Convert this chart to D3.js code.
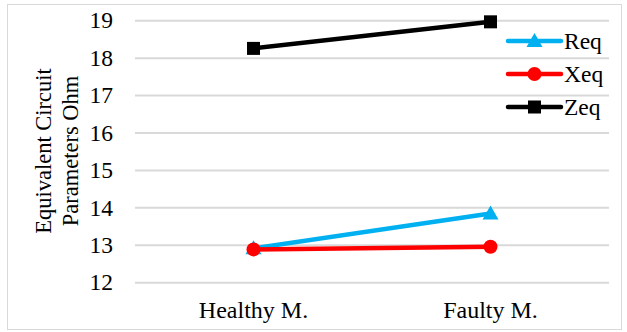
<!DOCTYPE html>
<html>
<head>
<meta charset="utf-8">
<script src="https://cdn.jsdelivr.net/npm/d3@7"></script>
</head>
<body style="margin:0">
<svg id="chart" width="627" height="332"></svg>
<script>
// Motor states on the x axis
const categories = ["Healthy M.", "Faulty M."];
// Equivalent circuit parameters (Ohm)
const reqValues = [12.92, 13.85];
const xeqValues = [12.89, 12.96];
const zeqValues = [18.26, 18.97];
const yTicks = [12, 13, 14, 15, 16, 17, 18, 19];
const seriesNames = ["Req", "Xeq", "Zeq"];

const FONT = "'Liberation Serif'";

const series = [
  { name: seriesNames[0], values: reqValues, color: "#00B0F0", marker: "triangle" },
  { name: seriesNames[1], values: xeqValues, color: "#FF0000", marker: "circle" },
  { name: seriesNames[2], values: zeqValues, color: "#000000", marker: "square" }
];

const svg = d3.select("#chart");
const plot = { left: 135, right: 609, top: 20.7, bottom: 282.7 };

// chart frame
svg.append("rect")
  .attr("x", 7.5).attr("y", 4.5)
  .attr("width", 614).attr("height", 325)
  .attr("fill", "#fff").attr("stroke", "#d9d9d9").attr("stroke-width", 1);

const x = d3.scaleBand().domain(categories).range([plot.left, plot.right]);
const y = d3.scaleLinear().domain([12, 19]).range([plot.bottom, plot.top]);

// horizontal gridlines
svg.append("g")
  .selectAll("line").data(yTicks).join("line")
  .attr("x1", plot.left).attr("x2", plot.right)
  .attr("y1", d => y(d)).attr("y2", d => y(d))
  .attr("stroke", "#d9d9d9").attr("stroke-width", 2);

// y tick labels
svg.append("g").selectAll("text").data(yTicks).join("text")
  .attr("x", plot.left - 22).attr("y", d => y(d))
  .attr("dy", "0.33em").attr("text-anchor", "end")
  .attr("font-size", 23.5).attr("fill", "#000")
  .style("font-family", FONT)
  .text(d => d3.format("d")(d));

const cx = d => x(d) + x.bandwidth() / 2;

// category labels
svg.append("g").selectAll("text").data(categories).join("text")
  .attr("x", d => cx(d)).attr("y", plot.bottom + 35)
  .attr("text-anchor", "middle")
  .attr("font-size", 24).attr("fill", "#000")
  .style("font-family", FONT)
  .text(d => d);

// y axis title (two lines, rotated)
const titleLines = ["Equivalent Circuit", "Parameters Ohm"];
svg.append("g").attr("transform", "translate(0,151) rotate(-90)")
  .selectAll("text").data(titleLines).join("text")
  .attr("x", 0).attr("y", (d, i) => 51 + i * 27)
  .attr("text-anchor", "middle")
  .attr("font-size", 22.5).attr("fill", "#000")
  .style("font-family", FONT)
  .text(d => d);

function drawMarker(g, type, px, py, color) {
  if (type === "square") {
    g.append("rect").attr("x", px - 6.5).attr("y", py - 6.5)
      .attr("width", 13).attr("height", 13).attr("fill", color);
  } else if (type === "circle") {
    g.append("circle").attr("cx", px).attr("cy", py).attr("r", 7).attr("fill", color);
  } else {
    const s = 8;
    g.append("path")
      .attr("d", `M${px},${py - s} L${px + s},${py + s * 0.75} L${px - s},${py + s * 0.75} Z`)
      .attr("fill", color);
  }
}

const line = d3.line().x((d, i) => cx(categories[i])).y(d => y(d));

series.forEach(s => {
  const g = svg.append("g");
  g.append("path").datum(s.values)
    .attr("d", line).attr("fill", "none")
    .attr("stroke", s.color).attr("stroke-width", 4.5).attr("stroke-linejoin", "round");
  s.values.forEach((v, i) => drawMarker(g, s.marker, cx(categories[i]), y(v), s.color));
});

// legend
const legend = svg.append("g");
series.forEach((s, i) => {
  const ly = 41 + i * 33;
  legend.append("line").attr("x1", 508).attr("x2", 561).attr("y1", ly).attr("y2", ly)
    .attr("stroke", s.color).attr("stroke-width", 4.5).attr("stroke-linecap", "round");
  drawMarker(legend, s.marker, 534.5, ly, s.color);
});
legend.selectAll("text").data(series).join("text")
  .attr("x", 564).attr("y", (d, i) => 41 + i * 33).attr("dy", "0.33em")
  .attr("font-size", 23.5).attr("fill", "#000")
  .style("font-family", FONT)
  .text(d => d.name);
</script>
</body>
</html>
